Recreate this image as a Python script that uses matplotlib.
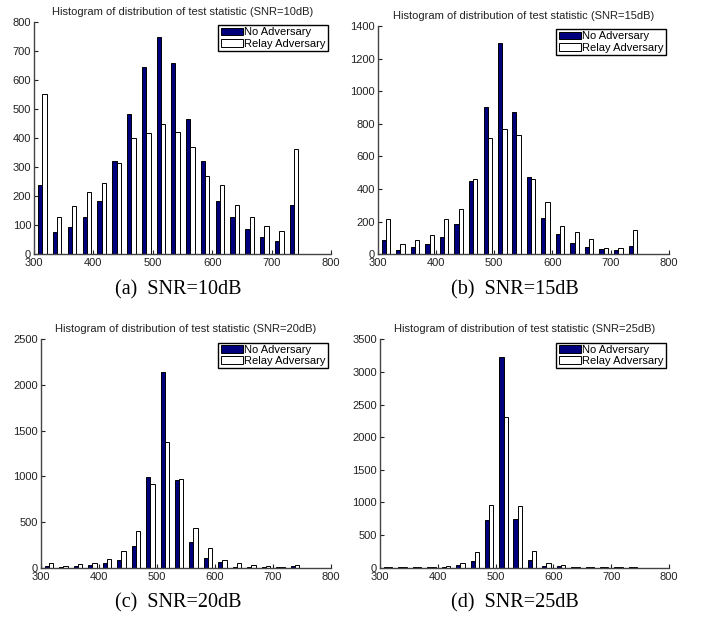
import numpy as np
import matplotlib.pyplot as plt

plt.rcParams['font.family'] = ['Liberation Sans', 'DejaVu Sans']

# bin centres of the histogram
centers = [314, 339, 364, 389, 414, 439, 464, 489, 514, 538,
           563, 588, 613, 638, 663, 688, 713, 738]

no_adv_10 = [237, 77, 95, 129, 183, 322, 482, 646, 749, 659,
             467, 321, 182, 127, 86, 58, 46, 170]
relay_10 = [552, 128, 165, 215, 244, 314, 401, 418, 450, 421,
            370, 268, 239, 170, 129, 97, 81, 363]

no_adv_15 = [85, 24, 45, 65, 107, 187, 446, 903, 1294, 874,
             475, 219, 126, 67, 43, 30, 26, 51]
relay_15 = [215, 61, 87, 118, 213, 278, 460, 712, 765, 728,
            464, 322, 174, 136, 91, 41, 41, 146]

no_adv_20 = [22, 11, 18, 26, 47, 80, 237, 993, 2142, 964,
             277, 106, 58, 11, 11, 7, 4, 15]
relay_20 = [55, 22, 36, 51, 99, 186, 405, 916, 1376, 974,
            431, 212, 80, 51, 33, 15, 11, 33]

no_adv_25 = [10, 5, 5, 5, 15, 41, 102, 731, 3224, 746,
             118, 26, 26, 5, 5, 5, 5, 5]
relay_25 = [10, 5, 5, 15, 31, 72, 235, 956, 2305, 940,
            250, 77, 36, 15, 8, 8, 8, 8]

snrs = [10, 15, 20, 25]
ymax = [800, 1400, 2500, 3500]
ystep = [100, 200, 500, 500]
captions = ["(a)  SNR=10dB", "(b)  SNR=15dB", "(c)  SNR=20dB", "(d)  SNR=25dB"]
data = [(no_adv_10, relay_10), (no_adv_15, relay_15),
        (no_adv_20, relay_20), (no_adv_25, relay_25)]

# axes rectangles in figure fractions
rects = [[0.0484, 0.590, 0.4231, 0.3747],
         [0.538, 0.590, 0.415, 0.3682],
         [0.058, 0.0844, 0.4135, 0.3684],
         [0.5413, 0.0844, 0.4117, 0.3684]]
cap_pos = [(0.254, 0.533), (0.734, 0.533), (0.254, 0.028), (0.734, 0.028)]

fig = plt.figure(figsize=(7.02, 6.2), dpi=100)
x = np.array(centers)
w = 7.3

for i in range(4):
    ax = fig.add_axes(rects[i])
    blue, white = data[i]
    ax.bar(x - w / 2, blue, width=w, color='#00007f', edgecolor='black',
           linewidth=0.7, label='No Adversary')
    ax.bar(x + w / 2, white, width=w, color='white', edgecolor='black',
           linewidth=0.7, label='Relay Adversary')
    ax.set_xlim(300, 800)
    ax.set_ylim(0, ymax[i])
    ax.set_xticks(range(300, 801, 100))
    ax.set_yticks(range(0, ymax[i] + 1, ystep[i]))
    ax.spines['top'].set_visible(False)
    ax.spines['right'].set_visible(False)
    for s in ['left', 'bottom']:
        ax.spines[s].set_color('#444444')
        ax.spines[s].set_linewidth(1.0)
    ax.tick_params(direction='in', length=3, labelsize=8, colors='#222222')
    ax.tick_params(axis='x', pad=3)
    ax.tick_params(axis='y', pad=2)
    ax.set_title("Histogram of distribution of test statistic (SNR=%ddB)" % snrs[i],
                 fontsize=8, color='#222222', pad=5)
    leg = ax.legend(loc='upper right', fontsize=8, fancybox=False,
                    edgecolor='black', borderaxespad=0.3, borderpad=0.2,
                    handlelength=2.0, handletextpad=0.1, labelspacing=0.1,
                    framealpha=1)
    leg.get_frame().set_linewidth(1.0)
    fig.text(cap_pos[i][0], cap_pos[i][1], captions[i], ha='center',
             va='center', fontsize=14.5, family='Liberation Serif')

plt.savefig("out.png", dpi=100)
